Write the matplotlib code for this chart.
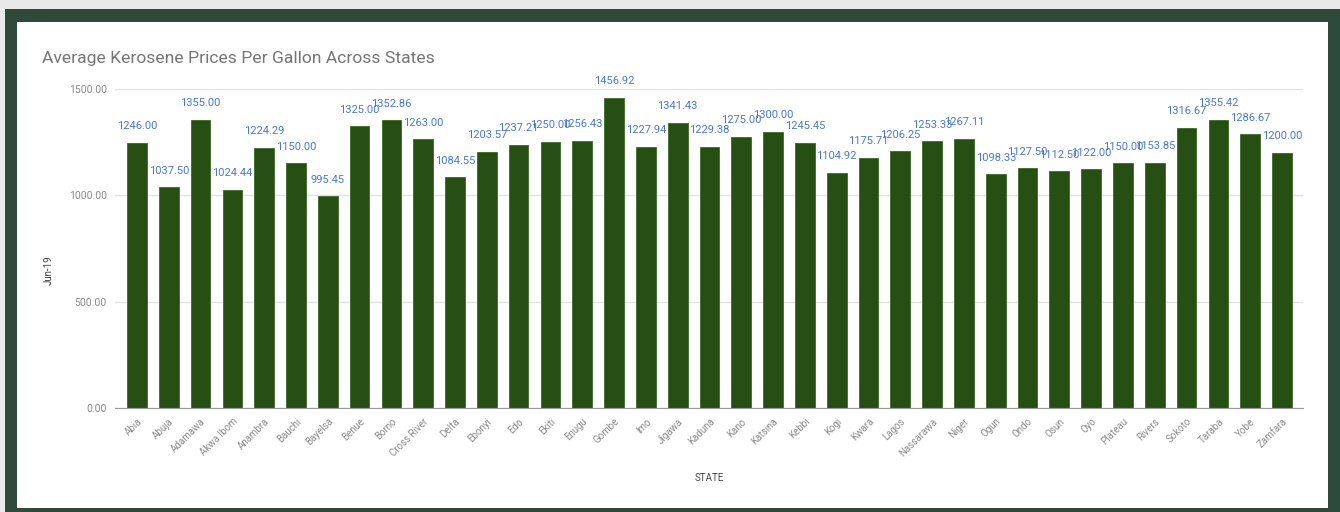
import matplotlib
matplotlib.use("Agg")
import matplotlib.pyplot as plt
from matplotlib.patches import Rectangle
from matplotlib.ticker import FormatStrFormatter

states = ["Abia", "Abuja", "Adamawa", "Akwa Ibom", "Anambra", "Bauchi", "Bayelsa",
          "Benue", "Borno", "Cross River", "Delta", "Ebonyi", "Edo", "Ekiti", "Enugu",
          "Gombe", "Imo", "Jigawa", "Kaduna", "Kano", "Katsina", "Kebbi", "Kogi",
          "Kwara", "Lagos", "Nassarawa", "Niger", "Ogun", "Ondo", "Osun", "Oyo",
          "Plateau", "Rivers", "Sokoto", "Taraba", "Yobe", "Zamfara"]
prices = [1246.00, 1037.50, 1355.00, 1024.44, 1224.29, 1150.00, 995.45,
          1325.00, 1352.86, 1263.00, 1084.55, 1203.57, 1237.21, 1250.00, 1256.43,
          1456.92, 1227.94, 1341.43, 1229.38, 1275.00, 1300.00, 1245.45, 1104.92,
          1175.71, 1206.25, 1253.33, 1267.11, 1098.33, 1127.50, 1112.50, 1122.00,
          1150.00, 1153.85, 1316.67, 1355.42, 1286.67, 1200.00]
yticks = [0, 500, 1000, 1500]

plt.rcParams["font.family"] = ["Roboto", "DejaVu Sans"]

W, H = 1340, 512
fig = plt.figure(figsize=(W / 100, H / 100), dpi=100)
fig.patch.set_facecolor("#e8e9e8")

# dark frame and white card
fig.patches.append(Rectangle((5 / W, 0), 1 - 5 / W, (H - 9) / H, transform=fig.transFigure,
                             facecolor="#2f4a3b", edgecolor="none", zorder=-2))
fig.patches.append(Rectangle((17 / W, (H - 508) / H), (1328 - 17) / W, (508 - 22) / H,
                             transform=fig.transFigure, facecolor="white",
                             edgecolor="none", zorder=-1))

ax = fig.add_axes([115 / W, (H - 408) / H, (1303 - 115) / W, (408 - 89) / H])
ax.set_facecolor("none")

x = list(range(len(states)))
ax.bar(x, prices, width=0.62, color="#274e13", edgecolor="#3d6a28", linewidth=0.6, zorder=3)

# value labels above each bar (they overlap in places, as in the original)
for xi, v in zip(x, prices):
    ax.annotate("%.2f" % v, (xi, v), xytext=(0, 12), textcoords="offset points",
                ha="center", va="center", fontsize=8, color="#4a78cf",
                clip_on=False, zorder=4)

ax.set_xlim(-0.69, len(states) - 0.34)
ax.set_ylim(0, 1500)
ax.set_yticks(yticks)
ax.yaxis.set_major_formatter(FormatStrFormatter("%.2f"))
ax.grid(axis="y", color="#e2e2e2", linewidth=1, zorder=0)
ax.set_xticks(x)
ax.set_xticklabels(states, rotation=45, ha="right", rotation_mode="anchor")
ax.tick_params(axis="x", length=0, pad=6, labelsize=7, labelcolor="#8a8a8a")
ax.tick_params(axis="y", length=0, pad=6, labelsize=7.5, labelcolor="#8a8a8a")
for s in ["top", "right", "left"]:
    ax.spines[s].set_visible(False)
ax.spines["bottom"].set_color("#9a9a9a")
ax.spines["bottom"].set_zorder(5)

fig.text(42 / W, (H - 58) / H, "Average Kerosene Prices Per Gallon Across States",
         fontsize=12.6, color="#757575", ha="left", va="center")
fig.text(709 / W, (H - 478) / H, "STATE", fontsize=7, color="#444444",
         ha="center", va="center")
fig.text(49 / W, (H - 270) / H, "Jun-19", fontsize=7, color="#444444",
         ha="center", va="center", rotation=90)

fig.savefig("out.png", dpi=100, facecolor=fig.get_facecolor())
